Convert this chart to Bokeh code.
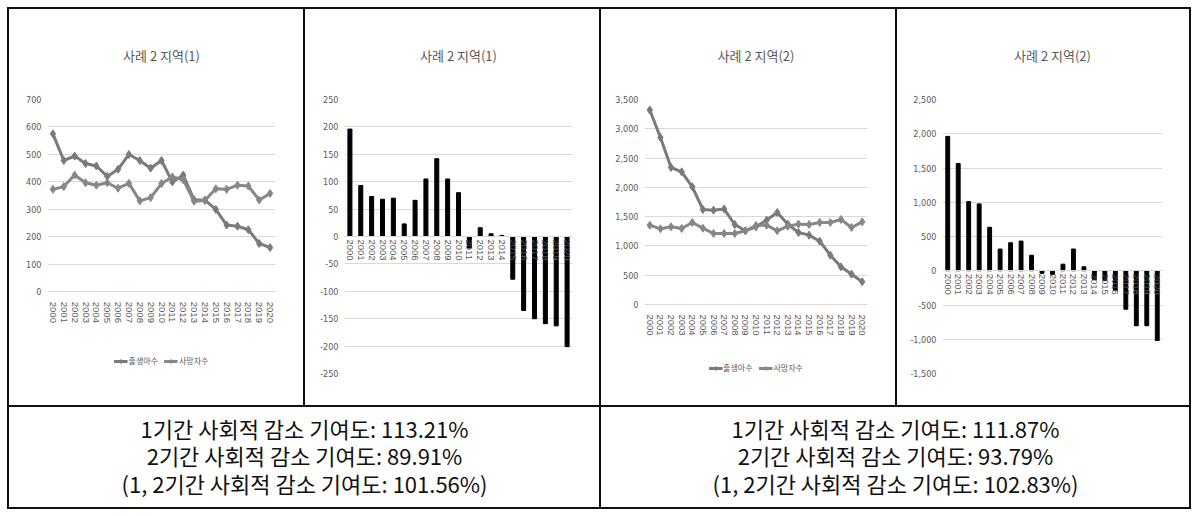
import math
from bokeh.plotting import figure
from bokeh.models import (Range1d, FactorRange, NumeralTickFormatter, FixedTicker,
                          Legend, LegendItem, Label, Spacer)
from bokeh.layouts import row, column
from bokeh.embed import file_html
from bokeh.resources import INLINE

# ---------------- data ----------------
years = [str(y) for y in range(2000, 2021)]

title_1 = "사례 2 지역(1)"
title_2 = "사례 2 지역(2)"
legend_births = "출생아수"
legend_deaths = "사망자수"

births_1 = [575, 478, 494, 467, 458, 420, 446, 500, 478, 450, 478, 400, 425, 335, 334, 300, 243, 239, 226, 176, 161]
deaths_1 = [373, 383, 425, 397, 388, 397, 377, 395, 331, 343, 394, 418, 408, 330, 332, 375, 373, 388, 385, 334, 358]
natural_1 = [196, 93, 73, 68, 70, 23, 66, 105, 142, 105, 80, -21, 16, 5, 2, -78, -135, -150, -159, -163, -201]

births_2 = [3320, 2851, 2339, 2265, 2009, 1622, 1610, 1630, 1366, 1258, 1326, 1440, 1571, 1372, 1229, 1184, 1081, 842, 643, 518, 387]
deaths_2 = [1354, 1292, 1326, 1298, 1400, 1303, 1212, 1212, 1212, 1258, 1349, 1354, 1258, 1337, 1372, 1366, 1400, 1400, 1451, 1315, 1411]
natural_2 = [1962, 1567, 1010, 976, 635, 317, 409, 433, 226, -38, -53, 96, 317, 58, -130, -144, -290, -562, -803, -803, -1019]

yticks_line_1 = [0, 100, 200, 300, 400, 500, 600, 700]
yticks_bar_1 = [-250, -200, -150, -100, -50, 0, 50, 100, 150, 200, 250]
yticks_line_2 = [0, 500, 1000, 1500, 2000, 2500, 3000, 3500]
yticks_bar_2 = [-1500, -1000, -500, 0, 500, 1000, 1500, 2000, 2500]

summary_left = ["1기간 사회적 감소 기여도: 113.21%",
                "2기간 사회적 감소 기여도: 89.91%",
                "(1, 2기간 사회적 감소 기여도: 101.56%)"]
summary_right = ["1기간 사회적 감소 기여도: 111.87%",
                 "2기간 사회적 감소 기여도: 93.79%",
                 "(1, 2기간 사회적 감소 기여도: 102.83%)"]

# ---------------- styles ----------------
KR = "Noto Sans CJK KR"
NUM = "Liberation Sans Narrow, DejaVu Sans Condensed, sans-serif"
XNUM = "Liberation Sans, sans-serif"
GRAY_TXT = "#595959"
GRID = "#d9d9d9"
LINE_B = "#7a7a7a"
LINE_D = "#878787"
BORDER = "#111111"
ROW_H = 396
TEXT_H = 100


def base_fig(w, yticks, ystart, title, ml, mr, mt, mb):
    p = figure(width=w, height=ROW_H, x_range=FactorRange(*years),
               y_range=Range1d(ystart, yticks[-1]),
               output_backend="svg", toolbar_location=None,
               min_border_left=ml, min_border_right=mr,
               min_border_top=mt, min_border_bottom=mb)
    p.outline_line_color = None
    p.title.text = title
    p.title.align = "center"
    p.title.text_font = KR
    p.title.text_font_size = "13px"
    p.title.text_font_style = "normal"
    p.title.text_color = GRAY_TXT
    p.title.standoff = 69
    p.yaxis.ticker = FixedTicker(ticks=yticks)
    p.yaxis.formatter = NumeralTickFormatter(format="0,0")
    p.yaxis.axis_line_color = None
    p.yaxis.major_tick_line_color = None
    p.yaxis.minor_tick_line_color = None
    p.yaxis.major_tick_out = 0
    p.yaxis.major_label_text_font = NUM
    p.yaxis.major_label_text_font_size = "9px"
    p.yaxis.major_label_text_color = GRAY_TXT
    p.yaxis.major_label_standoff = 6
    p.ygrid.grid_line_color = GRID
    p.ygrid.ticker = FixedTicker(ticks=yticks)
    p.xgrid.grid_line_color = None
    p.xaxis.fixed_location = 0
    p.xaxis.axis_line_color = GRID
    p.xaxis.major_tick_line_color = None
    p.xaxis.minor_tick_line_color = None
    p.xaxis.major_tick_out = 0
    p.xaxis.major_label_orientation = -math.pi / 2
    p.xaxis.major_label_text_font = XNUM
    p.xaxis.major_label_text_font_size = "9.5px"
    p.xaxis.major_label_text_color = GRAY_TXT
    return p


def line_chart(w, births, deaths, yticks, title, ml, mr, mt, plot_h, legend_margin):
    mb = 32
    frame_h = ROW_H - mt - mb
    ystart = -yticks[-1] * (frame_h - plot_h) / plot_h
    p = base_fig(w, yticks, ystart, title, ml, mr, mt, mb)
    p.xaxis.major_label_standoff = 10
    rb = p.line(years, births, line_width=3, color=LINE_B)
    sb = p.scatter(years, births, marker="diamond", size=8, color=LINE_B)
    rd = p.line(years, deaths, line_width=3, color=LINE_D)
    sd = p.scatter(years, deaths, marker="diamond", size=8, color=LINE_D)
    legend = Legend(items=[LegendItem(label=legend_births, renderers=[rb, sb]),
                           LegendItem(label=legend_deaths, renderers=[rd, sd])],
                    orientation="horizontal", location="bottom_center",
                    border_line_color=None, background_fill_alpha=0,
                    label_text_font=KR, label_text_font_size="8px",
                    label_text_color=GRAY_TXT, glyph_width=14, glyph_height=10,
                    label_standoff=1, spacing=6, padding=0, margin=legend_margin)
    p.add_layout(legend, "center")
    return p


def bar_chart(w, vals, yticks, title, ml, mr, mt, mb):
    p = base_fig(w, yticks, yticks[0], title, ml, mr, mt, mb)
    p.vbar(x=years, top=vals, width=0.37, color="black")
    p.xaxis.major_label_standoff = 3
    return p


def text_cell(w, lines):
    p = figure(width=w, height=TEXT_H, x_range=Range1d(0, 1), y_range=Range1d(0, TEXT_H),
               output_backend="svg", toolbar_location=None, min_border=0,
               x_axis_location=None, y_axis_location=None)
    p.outline_line_color = None
    p.grid.visible = False
    for i, t in enumerate(lines):
        p.add_layout(Label(x=0.5, y=TEXT_H - 20 - 27.5 * i, text=t, text_align="center",
                           text_baseline="middle", text_font=KR,
                           text_font_size="22px", text_color="#111111"))
    return p


def vline(h):
    return Spacer(width=2, height=h, styles={"background-color": BORDER})


def hline(w):
    return Spacer(width=w, height=2, styles={"background-color": BORDER})


c1 = line_chart(294, births_1, deaths_1, yticks_line_1, title_1, 38, 28, 89, 193, 7)
c2 = bar_chart(294, natural_1, yticks_bar_1, title_1, 39, 27, 90, 28)
c3 = line_chart(294, births_2, deaths_2, yticks_line_2, title_2, 43, 28, 90, 205, 0)
c4 = bar_chart(292, natural_2, yticks_bar_2, title_2, 45, 27, 90, 28)

t1 = text_cell(590, summary_left)
t2 = text_cell(588, summary_right)

top = row(vline(ROW_H), c1, vline(ROW_H), c2, vline(ROW_H), c3, vline(ROW_H), c4, vline(ROW_H))
bottom = row(vline(TEXT_H), t1, vline(TEXT_H), t2, vline(TEXT_H))
table = column(hline(1184), top, hline(1184), bottom, hline(1184))
layout = column(Spacer(width=1184, height=7), row(Spacer(width=7, height=502), table))

open("out.html", "w").write(file_html(layout, INLINE))
